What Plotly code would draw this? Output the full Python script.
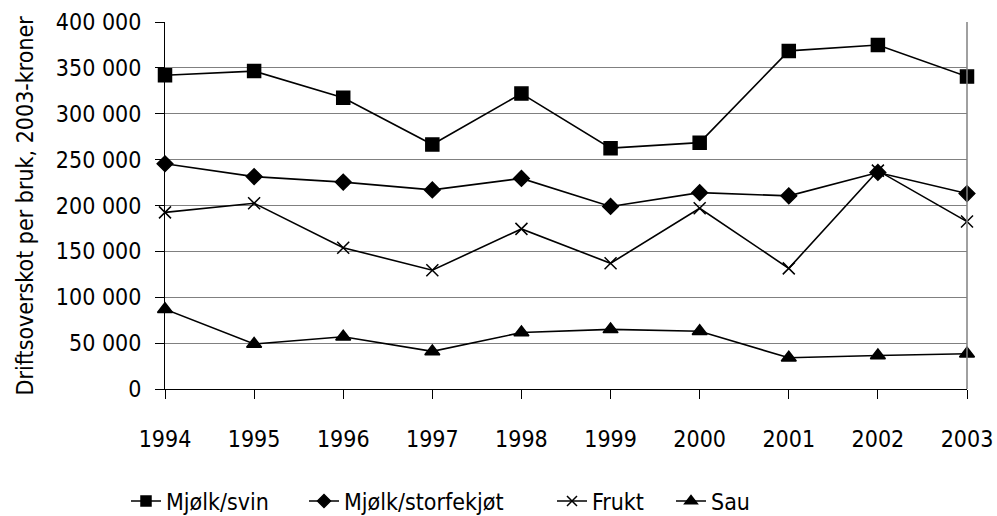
import plotly.graph_objects as go

years = [1994, 1995, 1996, 1997, 1998, 1999, 2000, 2001, 2002, 2003]
mjolk_svin = [342000, 346500, 317500, 266500, 322000, 262500, 268500, 368500, 375000, 340500]
mjolk_storfe = [245500, 231500, 225500, 217000, 229500, 199000, 214000, 210500, 236000, 213000]
frukt = [192500, 202500, 154000, 129500, 174500, 137000, 197000, 131500, 238000, 182500]
sau = [87000, 49000, 57000, 41000, 61500, 65000, 63000, 34000, 36500, 38500]

names = ["Mjølk/svin", "Mjølk/storfekjøt", "Frukt", "Sau"]
series = [mjolk_svin, mjolk_storfe, frukt, sau]
symbols = ["square", "diamond", "x-thin", "triangle-up"]
sizes = [13, 12, 12, 13]
legend_sizes = [10, 10, 10, 11]
legend_ids = ["legend", "legend2", "legend3", "legend4"]
legend_x = [122, 300, 548, 667]   # left edge of each legend entry (px)

FONT = "DejaVu Sans Condensed, Liberation Sans Narrow, sans-serif"

W, H = 997, 516
plot_l, plot_r, plot_t, plot_b = 165, 967, 22, 389

fig = go.Figure()
for name, vals, sym, sz in zip(names, series, symbols, sizes):
    fig.add_trace(go.Scatter(
        x=years, y=vals, name=name, mode="lines+markers",
        line=dict(color="black", width=1.6),
        marker=dict(symbol=sym, size=sz, color="black",
                    line=dict(color="black", width=1.5)),
        cliponaxis=False, showlegend=False,
    ))
# legend entries (smaller symbols, as in the original legend)
for name, sym, lsz, lg in zip(names, symbols, legend_sizes, legend_ids):
    fig.add_trace(go.Scatter(
        x=[None], y=[None], name=name, mode="lines+markers",
        line=dict(color="black", width=1.6),
        marker=dict(symbol=sym, size=lsz, color="black",
                    line=dict(color="black", width=1.5)),
        showlegend=True, legend=lg, hoverinfo="skip",
    ))

legend_common = dict(orientation="h", xanchor="left", xref="container", yref="container",
                     y=(H - 501) / H, yanchor="middle", font=dict(size=23),
                     bgcolor="rgba(0,0,0,0)", borderwidth=0)
layout_legends = {}
for lg, lx in zip(legend_ids, legend_x):
    layout_legends[lg] = dict(legend_common, x=(lx + 4) / W)

fig.update_layout(
    width=W, height=H,
    margin=dict(l=plot_l, r=W - plot_r, t=plot_t, b=H - plot_b, autoexpand=False),
    paper_bgcolor="white", plot_bgcolor="white",
    font=dict(family=FONT, size=23, color="black"),
    separators=". ",
    showlegend=True,
    **layout_legends,
)
fig.update_xaxes(
    range=[1994, 2003], tickmode="array", tickvals=years,
    ticks="outside", ticklen=9, tickcolor="black", tickwidth=1,
    showline=True, linecolor="black", linewidth=1, mirror=False,
    showgrid=False, zeroline=False, ticklabelstandoff=20,
    automargin=False, ticklabeloverflow="allow",
)
fig.update_yaxes(
    range=[0, 400000], tickmode="array",
    tickvals=[0, 50000, 100000, 150000, 200000, 250000, 300000, 350000, 400000],
    tickformat=",d",
    ticks="outside", ticklen=9, tickcolor="black", tickwidth=1,
    showline=True, linecolor="black", linewidth=1,
    showgrid=True, gridcolor="#808080", gridwidth=1, zeroline=False,
    ticklabelstandoff=9, automargin=False, ticklabeloverflow="allow",
)
# right border of plot area
fig.add_shape(type="line", xref="paper", yref="paper", x0=1, x1=1, y0=0, y1=1,
              line=dict(color="#808080", width=1.5))
fig.add_annotation(
    text="Driftsoverskot per bruk, 2003-kroner", textangle=-90,
    xref="paper", yref="paper", x=(24 - plot_l) / (plot_r - plot_l), y=0.5,
    xanchor="center", yanchor="middle", showarrow=False,
    font=dict(size=23),
)

fig.write_html(
    "out.html",
    config={"displayModeBar": False},
    post_script="document.body.style.margin='0';document.body.style.overflow='hidden';",
)
